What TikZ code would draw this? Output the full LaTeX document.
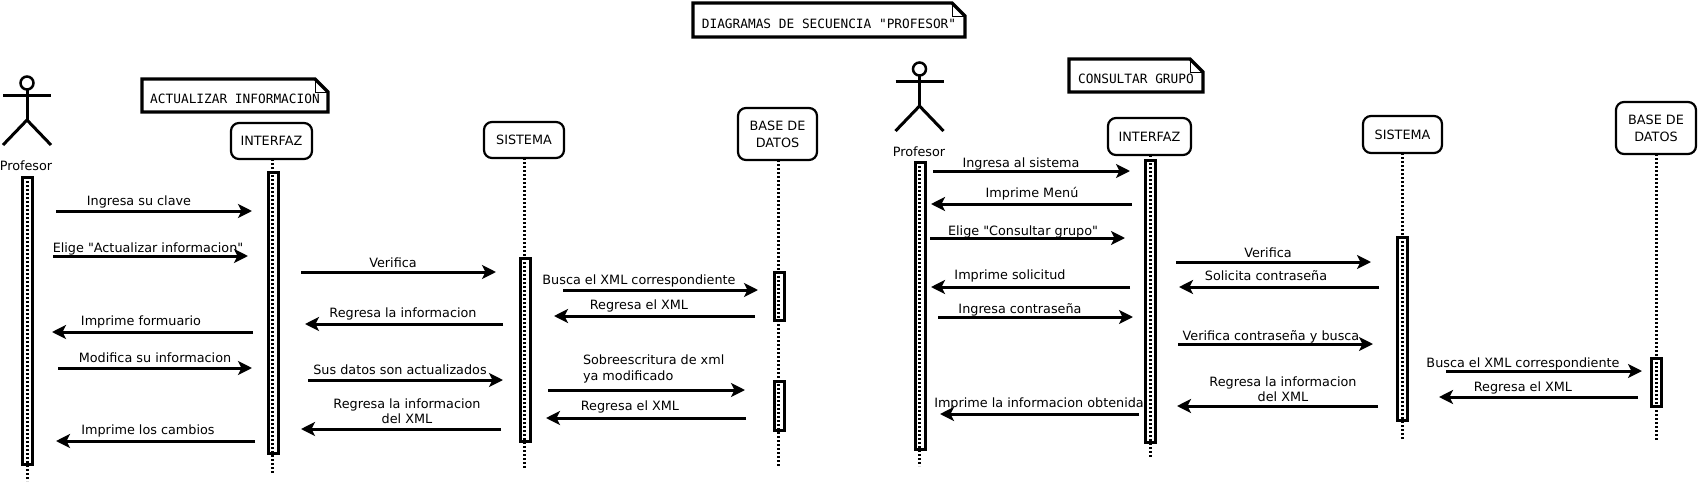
\documentclass[tikz,border=0pt]{standalone}
\usepackage{fontspec}
\newfontfamily\djv{DejaVu Sans}
\setmainfont{DejaVu Sans}
\setmonofont{DejaVu Sans Mono}
\usetikzlibrary{arrows.meta,calc}
\tikzset{
  x=1pt,y=-1pt,
  lbl/.style={inner sep=0pt,outer sep=0pt,font=\djv\fontsize{12.8}{15}\selectfont,text height=10pt,text depth=3pt,align=center,yshift=-1.7pt},
  lbltwo/.style={inner sep=0pt,outer sep=0pt,font=\djv\fontsize{12.8}{15.5}\selectfont,align=center},
  lblleft/.style={inner sep=0pt,outer sep=0pt,font=\djv\fontsize{12.8}{16}\selectfont,align=left,anchor=west},
  obj/.style={draw,line width=2.2pt,rounded corners=8pt,inner sep=0pt,outer sep=0pt,align=center,fill=white,font=\djv\fontsize{12.8}{17}\selectfont},
  actv/.style={draw,line width=3pt,fill=white,inner sep=0pt,outer sep=0pt,minimum width=10pt},
  life/.style={line width=3pt,dash pattern=on 2pt off 2pt},
  msgline/.style={line width=3pt,-{Stealth[length=14pt,width=14pt,inset=3.5pt]}},
  notetxt/.style={inner sep=0pt,outer sep=0pt,font=\ttfamily\fontsize{12.8}{15}\selectfont,text height=16pt,text depth=0pt},
  noteout/.style={line width=3.3pt,line join=miter},
  notefold/.style={line width=1pt},
  stick/.style={line width=3pt},
}
% rectangle note: name, x1, y1, x2, y2, text
\newcommand{\notebox}[6]{%
  \node[notetxt,minimum width={#4-#2},minimum height={#5-#3}] (#1) at ({(#2+#4)/2},{(#3+#5)/2}) {#6};
  \draw[noteout] (#1.north west) -- ($(#1.north east)+(-13,0)$) -- ($(#1.north east)+(0,13)$) -- (#1.south east) -- (#1.south west) -- cycle;
  \draw[notefold] ($(#1.north east)+(-13,0)$) -- ($(#1.north east)+(-13,13)$) -- ($(#1.north east)+(0,13)$);
}
% actor: name, head x, head y
\newcommand{\actorfig}[3]{%
  \node[draw,circle,line width=2.5pt,minimum size=13pt,inner sep=0pt,outer sep=0pt] (#1) at (#2,#3) {};
  \coordinate (#1-hip) at (#2,#3+37);
  \draw[stick] (#1.south) -- (#1-hip);
  \draw[stick] ($(#1)+(-24,12.5)$) -- ($(#1)+(24,12.5)$);
  \draw[stick] (#1-hip) -- ($(#1)+(-24,62)$);
  \draw[stick] (#1-hip) -- ($(#1)+(24,62)$);
}
% object with lifeline: name, x1, y1, x2, y2, text, lifeline x, lifeline end y
\newcommand{\objbox}[8]{%
  \node[obj,minimum width={#4-#2},minimum height={#5-#3}] (#1) at ({(#2+#4)/2},{(#3+#5)/2}) {#6};
  \coordinate (#1-top) at (#7,#5);
  \coordinate (#1-end) at (#7,#8);
}
% activation: name, x, y1, y2
\newcommand{\actbar}[4]{%
  \node[actv,minimum height={#4-#3}] (#1) at (#2,{(#3+#4)/2}) {};
}
% message: name, x from, x to, y, label x, label y, label
\newcommand{\msgto}[7]{%
  \coordinate (#1-a) at (#2,#4);
  \coordinate (#1-b) at (#3,#4);
  \draw[msgline] (#1-a) -- (#1-b);
  \node[lbl] (#1-t) at (#5,#6) {#7};
}
\begin{document}
\begin{tikzpicture}
\useasboundingbox (0,0) rectangle (1698,485);

% notes
\notebox{ntitle}{693}{3}{965}{37}{DIAGRAMAS DE SECUENCIA "PROFESOR"}
\notebox{nact}{142}{79}{328}{112}{ACTUALIZAR INFORMACION}
\notebox{ncon}{1069}{59}{1203}{92}{CONSULTAR GRUPO}

% left diagram
\actorfig{actA}{27}{83}
\node[lbl] (profA) at (26,165) {Profesor};
\coordinate (actA-top) at (27,177);
\coordinate (actA-end) at (27,481);
\objbox{ifA}{231}{123}{312}{159}{INTERFAZ}{272}{473}
\objbox{sisA}{484}{122}{564}{158}{SISTEMA}{524}{469}
\objbox{dbA}{738}{108}{817}{160}{BASE DE\\DATOS}{778}{467}

\actbar{barA}{27.5}{177}{464}
\actbar{barIA}{273}{172}{453}
\actbar{barSA}{525}{258}{441}
\actbar{barDA}{779}{272}{320}
\actbar{barDB}{779}{381}{430}

\draw[life] (actA-top) -- (actA-end);
\draw[life] (ifA-top) -- (ifA-end);
\draw[life] (sisA-top) -- (sisA-end);
\draw[life] (dbA-top) -- (dbA-end);

\msgto{a1}{56}{252}{211}{139}{200}{Ingresa su clave}
\msgto{a2}{53}{248}{256}{148}{247}{Elige "Actualizar informacion"}
\msgto{a3}{301}{496}{272}{393}{262}{Verifica}
\msgto{a4}{563}{758}{290}{639}{279}{Busca el XML correspondiente}
\msgto{a5}{755}{554}{316}{639}{304}{Regresa el XML}
\msgto{a6}{503}{305}{324}{403}{312}{Regresa la informacion}
\msgto{a7}{253}{52}{332}{141}{320}{Imprime formuario}
\msgto{a8}{58}{252}{368}{155}{357}{Modifica su informacion}
\msgto{a9}{308}{503}{380}{400}{369}{Sus datos son actualizados}
\coordinate (a10-a) at (548,390);
\coordinate (a10-b) at (745,390);
\draw[msgline] (a10-a) -- (a10-b);
\node[lblleft] (a10-t) at (583,369) {Sobreescritura de xml\\ya modificado};
\msgto{a11}{746}{546}{418}{630}{405}{Regresa el XML}
\coordinate (a12-a) at (501,429);
\coordinate (a12-b) at (301,429);
\draw[msgline] (a12-a) -- (a12-b);
\node[lbltwo] (a12-t) at (407,411) {Regresa la informacion\\del XML};
\msgto{a13}{255}{56}{441}{148}{429}{Imprime los cambios}

% right diagram
\actorfig{actB}{919.5}{69}
\node[lbl] (profB) at (919,151) {Profesor};
\coordinate (actB-top) at (919.5,162);
\coordinate (actB-end) at (919.5,466);
\objbox{ifB}{1108}{118}{1191}{155}{INTERFAZ}{1150}{457}
\objbox{sisB}{1363}{116}{1442}{153}{SISTEMA}{1402}{440}
\objbox{dbB}{1616}{102}{1696}{154}{BASE DE\\DATOS}{1656}{441}

\actbar{barB}{920}{162}{449}
\actbar{barIB}{1150.5}{160}{442}
\actbar{barSB}{1402.5}{237}{420}
\actbar{barDC}{1656.5}{358}{406}

\draw[life] (actB-top) -- (actB-end);
\draw[life] (ifB-top) -- (ifB-end);
\draw[life] (sisB-top) -- (sisB-end);
\draw[life] (dbB-top) -- (dbB-end);

\msgto{b1}{933}{1130}{171}{1021}{162}{Ingresa al sistema}
\msgto{b2}{1132}{931}{204}{1032}{192}{Imprime Menú}
\msgto{b3}{930}{1125}{238}{1023}{230}{Elige "Consultar grupo"}
\msgto{b4}{1130}{931}{287}{1010}{274}{Imprime solicitud}
\msgto{b5}{938}{1133}{317}{1020}{308}{Ingresa contraseña}
\msgto{b6}{1176}{1371}{262}{1268}{252}{Verifica}
\msgto{b7}{1379}{1179}{287}{1266}{275}{Solicita contraseña}
\msgto{b8}{1178}{1373}{344}{1271}{335}{Verifica contraseña y busca}
\coordinate (b9-a) at (1378,406);
\coordinate (b9-b) at (1177,406);
\draw[msgline] (b9-a) -- (b9-b);
\node[lbltwo] (b9-t) at (1283,389) {Regresa la informacion\\del XML};
\msgto{b10}{1139}{940}{414}{1039}{402}{Imprime la informacion obtenida}
\msgto{b11}{1446}{1642}{371}{1523}{362}{Busca el XML correspondiente}
\msgto{b12}{1638}{1439}{397}{1523}{386}{Regresa el XML}
\end{tikzpicture}
\end{document}
